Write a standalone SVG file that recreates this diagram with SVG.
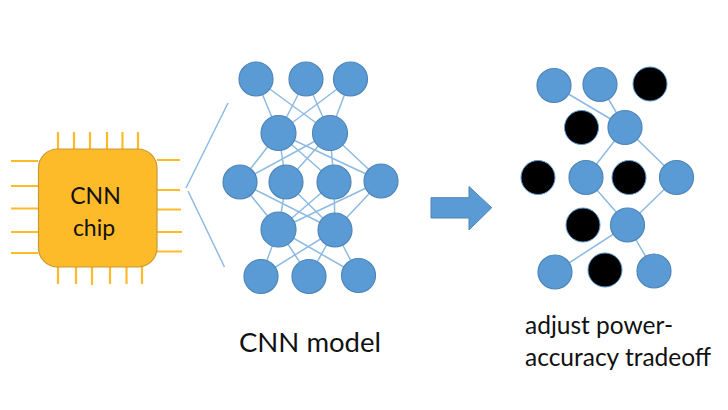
<svg xmlns="http://www.w3.org/2000/svg" width="728" height="410" viewBox="0 0 728 410">
<style>
.e{stroke:#8DBAE3;stroke-width:1.5;fill:none}
.p{stroke:#FDBB2A;stroke-width:2.2;fill:none}
.n{fill:#5B9BD5;stroke:#4F86B8;stroke-width:1.2}
.k{fill:#000;stroke:#5B9BD5;stroke-width:1}
text{font-family:Lato,"Open Sans","Liberation Sans",sans-serif;fill:#111}
</style>
<rect width="728" height="410" fill="#fff"/>
<g id="connectors">
<path class="e" d="M228 103L186 188M188 191L224.500 267"/>
<path class="e" d="M256 79L278.500 133M256 79L330 133M306 79L278.500 133M306 79L330 133M350.500 79L278.500 133M350.500 79L330 133"/>
<path class="e" d="M278.500 133L240 182M278.500 133L286 182M278.500 133L334 182M278.500 133L381 181M330 133L240 182M330 133L286 182M330 133L334 182M330 133L381 181"/>
<path class="e" d="M240 182L278.500 229.500M286 182L278.500 229.500M334 182L278.500 229.500M381 181L278.500 229.500M240 182L335 230M286 182L335 230M334 182L335 230M381 181L335 230"/>
<path class="e" d="M278.500 229.500L261 276M278.500 229.500L309 276.500M278.500 229.500L358.500 275.500M335 230L261 276M335 230L309 276.500M335 230L358.500 275.500"/>
<path class="e" d="M554 85.500L625 127.500M600 84.500L625 127.500M625 127.500L586 177.500M625 127.500L676.500 177.500M586 177.500L627.500 225M676.500 177.500L627.500 225M627.500 225L555 272M627.500 225L654 271"/>
</g>
<g id="chip">
<path class="p" d="M58 132V149M74 132V149M90 132V149M107 132V149M122.500 132V149M138 132V149M58 267V284M76 267V284M92 267V285M110 267V284M126.500 267V284M142 267V284M11 161H38M11 186H38M11 208.500H38M11 232H38M11 253H38M157 160H180M157 190H180M157 209.500H181M157 232H182M157 251.500H182"/>
<rect x="38.500" y="149" width="118.500" height="118" rx="19" fill="#FDBB2A" stroke="#C69A35" stroke-width="1.2"/>
<text x="95.500" y="204" font-size="23" text-anchor="middle">CNN</text>
<text x="94" y="236" font-size="23" text-anchor="middle">chip</text>
</g>
<g id="cnn-model">
<circle class="n" cx="256" cy="79" r="17"/><circle class="n" cx="306" cy="79" r="17"/><circle class="n" cx="350.500" cy="79" r="17"/>
<circle class="n" cx="278.500" cy="133" r="17.500"/><circle class="n" cx="330" cy="133" r="17.500"/>
<circle class="n" cx="240" cy="182" r="17"/><circle class="n" cx="286" cy="182" r="17"/><circle class="n" cx="334" cy="182" r="17"/><circle class="n" cx="381" cy="181" r="17"/>
<circle class="n" cx="278.500" cy="229.500" r="17.500"/><circle class="n" cx="335" cy="230" r="17"/>
<circle class="n" cx="261" cy="276.500" r="17"/><circle class="n" cx="309" cy="276.500" r="17"/><circle class="n" cx="358.500" cy="275.500" r="17"/>
<text x="310" y="352" font-size="27.500" text-anchor="middle">CNN model</text>
</g>
<g id="arrow"><polygon points="431,197.700 469,197.700 469,186.500 491.700,207.700 469,230 469,218 431,218" fill="#5B9BD5" stroke="#4F86B8" stroke-width="1"/></g>
<g id="pruned-model">
<circle class="n" cx="554" cy="85.500" r="17"/><circle class="n" cx="600" cy="84.500" r="17"/><circle class="k" cx="650" cy="84" r="17"/>
<circle class="k" cx="581.500" cy="127.500" r="17"/><circle class="n" cx="625" cy="127.500" r="17"/>
<circle class="k" cx="538" cy="177.500" r="17"/><circle class="n" cx="586" cy="177.500" r="17"/><circle class="k" cx="629" cy="177.500" r="17"/><circle class="n" cx="676.500" cy="177.500" r="17"/>
<circle class="k" cx="583" cy="225" r="17"/><circle class="n" cx="627.500" cy="225" r="17"/>
<circle class="n" cx="555" cy="272" r="17"/><circle class="k" cx="605" cy="270" r="17"/><circle class="n" cx="654" cy="271" r="17"/>
<text x="525" y="334" font-size="24.500">adjust power-</text>
<text x="525" y="366" font-size="24.500">accuracy tradeoff</text>
</g>
</svg>
